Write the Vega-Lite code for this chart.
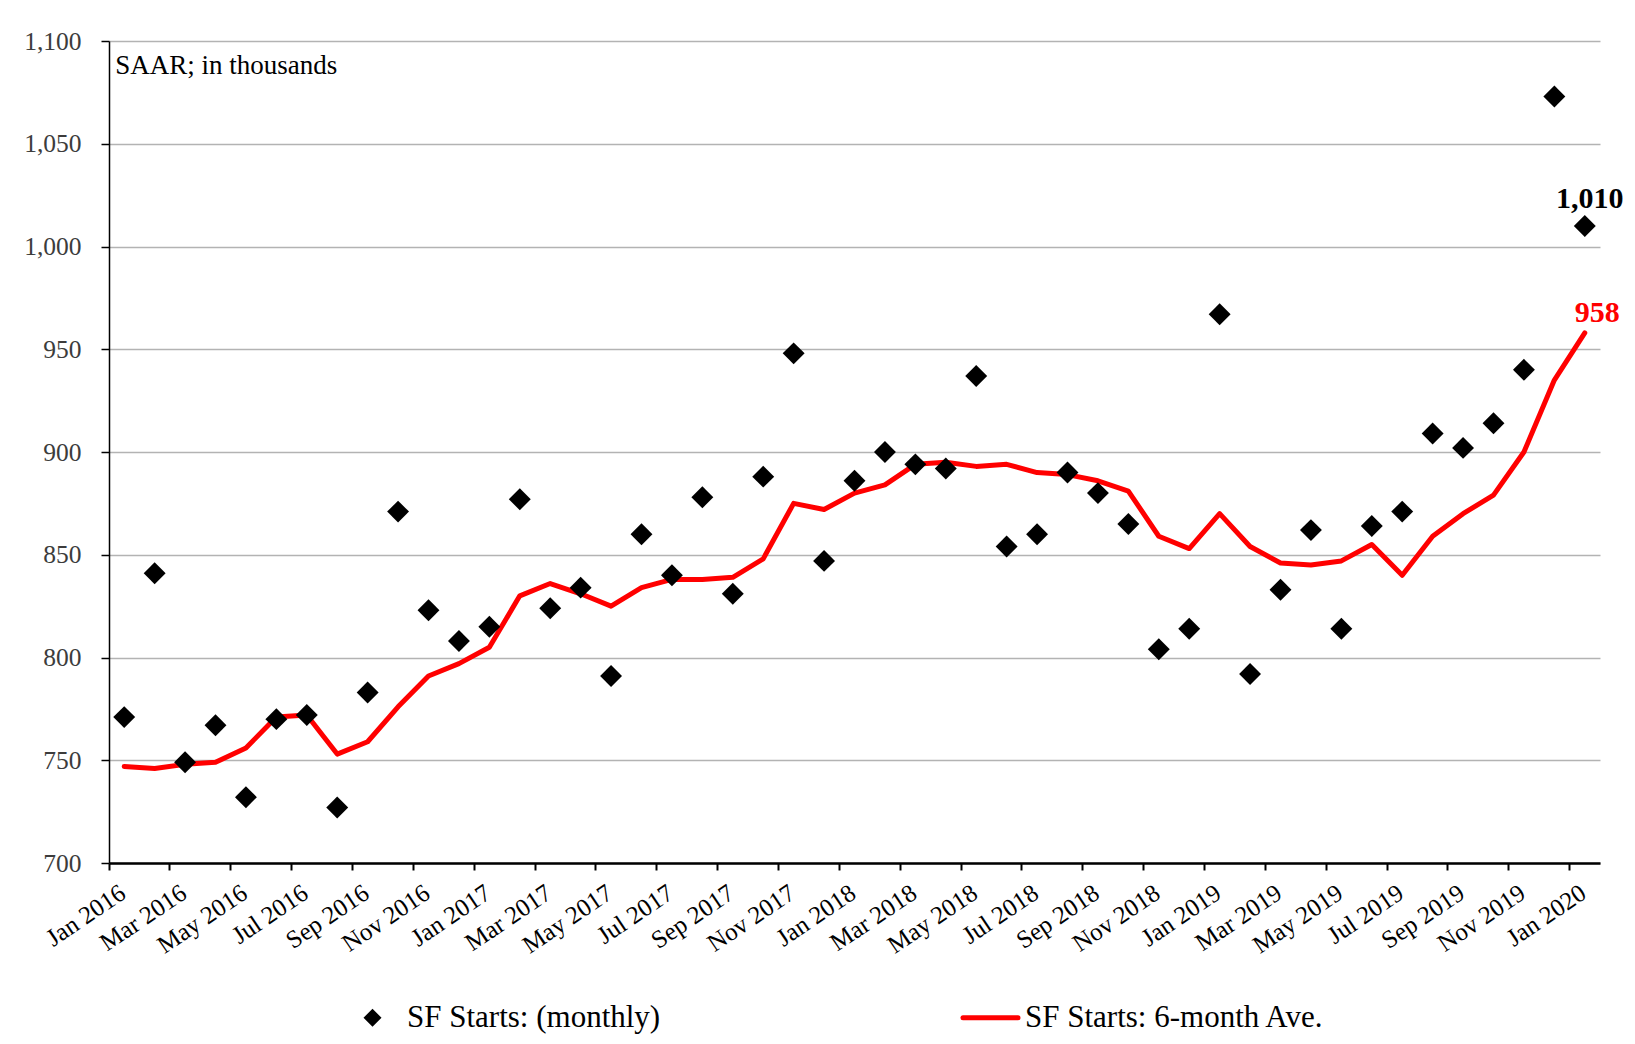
{
  "$schema": "https://vega.github.io/schema/vega-lite/v6.json",
  "autosize": {"type": "none"},
  "padding": {"left": 109, "top": 41, "right": 35, "bottom": 181},
  "width": 1491,
  "height": 822,
  "background": "white",
  "config": {
    "font": "Liberation Serif",
    "view": {"stroke": null}
  },
  "data": {
    "values": [
      {"month": "Jan 2016", "monthly": 771, "avg": 747},
      {"month": "Feb 2016", "monthly": 841, "avg": 746},
      {"month": "Mar 2016", "monthly": 749, "avg": 748},
      {"month": "Apr 2016", "monthly": 767, "avg": 749},
      {"month": "May 2016", "monthly": 732, "avg": 756},
      {"month": "Jun 2016", "monthly": 770, "avg": 771},
      {"month": "Jul 2016", "monthly": 772, "avg": 772},
      {"month": "Aug 2016", "monthly": 727, "avg": 753},
      {"month": "Sep 2016", "monthly": 783, "avg": 759},
      {"month": "Oct 2016", "monthly": 871, "avg": 776},
      {"month": "Nov 2016", "monthly": 823, "avg": 791},
      {"month": "Dec 2016", "monthly": 808, "avg": 797},
      {"month": "Jan 2017", "monthly": 815, "avg": 805},
      {"month": "Feb 2017", "monthly": 877, "avg": 830},
      {"month": "Mar 2017", "monthly": 824, "avg": 836},
      {"month": "Apr 2017", "monthly": 834, "avg": 831},
      {"month": "May 2017", "monthly": 791, "avg": 825},
      {"month": "Jun 2017", "monthly": 860, "avg": 834},
      {"month": "Jul 2017", "monthly": 840, "avg": 838},
      {"month": "Aug 2017", "monthly": 878, "avg": 838},
      {"month": "Sep 2017", "monthly": 831, "avg": 839},
      {"month": "Oct 2017", "monthly": 888, "avg": 848},
      {"month": "Nov 2017", "monthly": 948, "avg": 875},
      {"month": "Dec 2017", "monthly": 847, "avg": 872},
      {"month": "Jan 2018", "monthly": 886, "avg": 880},
      {"month": "Feb 2018", "monthly": 900, "avg": 884},
      {"month": "Mar 2018", "monthly": 894, "avg": 894},
      {"month": "Apr 2018", "monthly": 892, "avg": 895},
      {"month": "May 2018", "monthly": 937, "avg": 893},
      {"month": "Jun 2018", "monthly": 854, "avg": 894},
      {"month": "Jul 2018", "monthly": 860, "avg": 890},
      {"month": "Aug 2018", "monthly": 890, "avg": 889},
      {"month": "Sep 2018", "monthly": 880, "avg": 886},
      {"month": "Oct 2018", "monthly": 865, "avg": 881},
      {"month": "Nov 2018", "monthly": 804, "avg": 859},
      {"month": "Dec 2018", "monthly": 814, "avg": 853},
      {"month": "Jan 2019", "monthly": 967, "avg": 870},
      {"month": "Feb 2019", "monthly": 792, "avg": 854},
      {"month": "Mar 2019", "monthly": 833, "avg": 846},
      {"month": "Apr 2019", "monthly": 862, "avg": 845},
      {"month": "May 2019", "monthly": 814, "avg": 847},
      {"month": "Jun 2019", "monthly": 864, "avg": 855},
      {"month": "Jul 2019", "monthly": 871, "avg": 840},
      {"month": "Aug 2019", "monthly": 909, "avg": 859},
      {"month": "Sep 2019", "monthly": 902, "avg": 870},
      {"month": "Oct 2019", "monthly": 914, "avg": 879},
      {"month": "Nov 2019", "monthly": 940, "avg": 900},
      {"month": "Dec 2019", "monthly": 1073, "avg": 935},
      {"month": "Jan 2020", "monthly": 1010, "avg": 958}
    ]
  },
  "encoding": {
    "x": {
      "field": "month",
      "type": "ordinal",
      "sort": null,
      "scale": {"type": "band", "paddingInner": 0, "paddingOuter": 0},
      "axis": {
        "title": null,
        "values": ["Jan 2016", "Mar 2016", "May 2016", "Jul 2016", "Sep 2016", "Nov 2016", "Jan 2017", "Mar 2017", "May 2017", "Jul 2017", "Sep 2017", "Nov 2017", "Jan 2018", "Mar 2018", "May 2018", "Jul 2018", "Sep 2018", "Nov 2018", "Jan 2019", "Mar 2019", "May 2019", "Jul 2019", "Sep 2019", "Nov 2019", "Jan 2020"],
        "bandPosition": 0,
        "labelOffset": -8,
        "labelAngle": -34,
        "labelAlign": "right",
        "labelBaseline": "top",
        "labelPadding": 10,
        "labelOverlap": false,
        "labelBound": false,
        "labelFont": "Liberation Serif",
        "labelFontSize": 25,
        "labelColor": "#000000",
        "tickSize": 7,
        "tickWidth": 2,
        "tickColor": "#000000",
        "domainColor": "#000000",
        "domainWidth": 2.5,
        "grid": false
      }
    }
  },
  "layer": [
    {
      "mark": {"type": "line", "strokeWidth": 5, "strokeJoin": "round", "strokeCap": "round"},
      "encoding": {
        "y": {
          "field": "avg",
          "type": "quantitative",
          "scale": {"domain": [700, 1100], "nice": false, "zero": false},
          "axis": {
            "title": null,
            "values": [700, 750, 800, 850, 900, 950, 1000, 1050, 1100],
            "format": ",.0f",
            "tickSize": 8,
            "tickWidth": 1.5,
            "tickColor": "#000000",
            "domainColor": "#000000",
            "domainWidth": 1.5,
            "labelPadding": 20,
            "labelFont": "Liberation Serif",
            "labelFontSize": 25.5,
            "labelColor": "#3c3c3c",
            "grid": true,
            "gridColor": "#b3b3b3",
            "gridWidth": 1.5
          }
        },
        "color": {
          "datum": "SF Starts: 6-month Ave.",
          "type": "nominal",
          "scale": {"domain": ["SF Starts: (monthly)", "SF Starts: 6-month Ave."], "range": ["#000000", "#ff0000"]},
          "legend": {
            "orient": "none",
            "legendX": 248,
            "legendY": 961,
            "direction": "horizontal",
            "title": null,
            "padding": 0,
            "symbolSize": 3025,
            "symbolStrokeWidth": 0,
            "labelOffset": 19,
            "columnPadding": 292,
            "labelFont": "Liberation Serif",
            "labelFontSize": 31,
            "labelColor": "#000000",
            "labelLimit": 0,
            "encode": {
              "symbols": {
                "update": {
                  "shape": {"signal": "datum.value === 'SF Starts: (monthly)' ? 'diamond' : 'stroke'"},
                  "size": {"signal": "datum.value === 'SF Starts: (monthly)' ? 324 : 3025"},
                  "fill": {"signal": "datum.value === 'SF Starts: (monthly)' ? '#000000' : 'transparent'"},
                  "stroke": {"signal": "datum.value === 'SF Starts: (monthly)' ? 'transparent' : '#ff0000'"},
                  "strokeWidth": {"signal": "datum.value === 'SF Starts: (monthly)' ? 0 : 5"},
                  "strokeCap": {"value": "round"},
                  "opacity": {"value": 1}
                }
              }
            }
          }
        }
      }
    },
    {
      "mark": {"type": "point", "shape": "diamond", "filled": true, "size": 480, "opacity": 1},
      "encoding": {
        "y": {"field": "monthly", "type": "quantitative"},
        "color": {"datum": "SF Starts: (monthly)", "type": "nominal"}
      }
    },
    {
      "data": {"values": [{"note": "SAAR; in thousands"}]},
      "mark": {"type": "text", "align": "left", "baseline": "alphabetic", "fontSize": 27, "font": "Liberation Serif", "color": "#000000", "dx": -9, "dy": 32.6},
      "encoding": {
        "x": {"datum": "Jan 2016", "type": "ordinal"},
        "y": {"datum": 1100, "type": "quantitative"},
        "text": {"field": "note", "type": "nominal"}
      }
    },
    {
      "transform": [{"filter": "datum.month === 'Jan 2020'"}],
      "mark": {"type": "text", "align": "center", "baseline": "alphabetic", "fontSize": 30, "fontWeight": "bold", "font": "Liberation Serif", "color": "#000000", "dx": 5, "dy": -17.7},
      "encoding": {
        "y": {"field": "monthly", "type": "quantitative"},
        "text": {"field": "monthly", "type": "quantitative", "format": ","}
      }
    },
    {
      "transform": [{"filter": "datum.month === 'Jan 2020'"}],
      "mark": {"type": "text", "align": "center", "baseline": "alphabetic", "fontSize": 30, "fontWeight": "bold", "font": "Liberation Serif", "color": "#ff0000", "dx": 12.5, "dy": -10.7},
      "encoding": {
        "y": {"field": "avg", "type": "quantitative"},
        "text": {"field": "avg", "type": "quantitative", "format": ","}
      }
    }
  ]
}
